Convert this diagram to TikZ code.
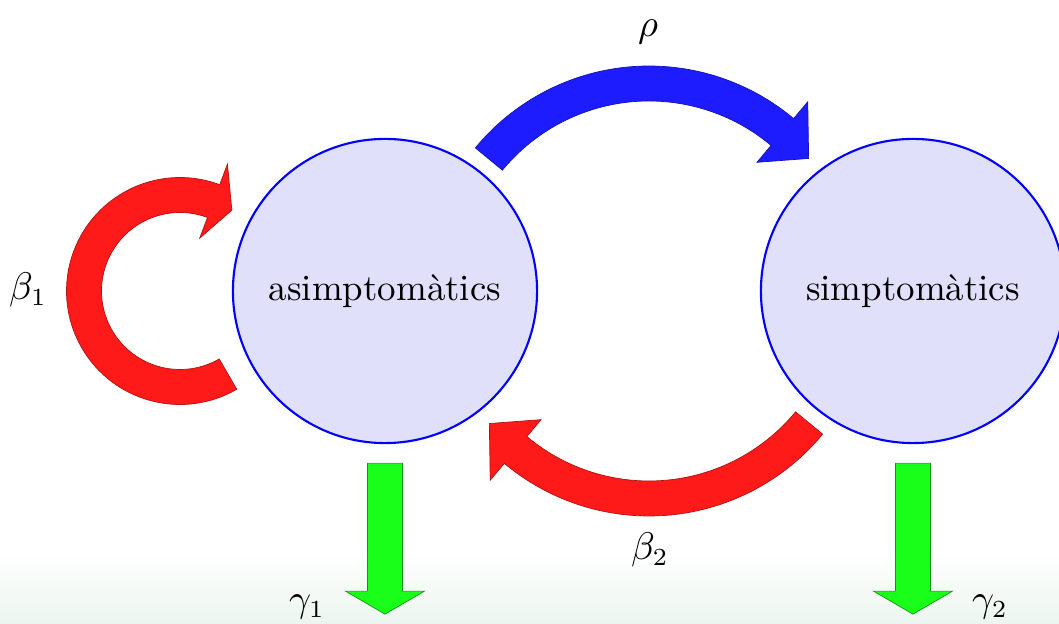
\documentclass[tikz,border=0pt]{standalone}
\usepackage{amsmath}
\usepackage{tikz}
\usetikzlibrary{calc}

\definecolor{estatfill}{RGB}{224,224,250}
\definecolor{fletxablava}{RGB}{28,28,255}
\definecolor{fletxavermella}{RGB}{255,26,26}
\definecolor{fletxaverda}{RGB}{26,255,26}
\definecolor{fonsverd}{RGB}{236,245,239}

% fat curved arrow: centre, mid radius, start angle, head base angle, tip angle, style
\newcommand{\fatarc}[6]{%
  \filldraw[#6] ([shift={(#1)}]#3:#2+17.5) arc[start angle=#3, end angle=#4, radius=#2+17.5]
    -- ([shift={(#1)}]#4:#2+39.5) -- ([shift={(#1)}]#5:#2) -- ([shift={(#1)}]#4:#2-39.5)
    -- ([shift={(#1)}]#4:#2-17.5) arc[start angle=#4, end angle=#3, radius=#2-17.5] -- cycle;}

\begin{document}
\begin{tikzpicture}[x=0.01cm,y=0.01cm,
    estat/.style={circle,draw=blue,line width=0.6pt,fill=estatfill,minimum size=3.04cm,inner sep=0pt,font=\fontsize{10.5}{12.6}\selectfont},
    lletra/.style={font=\fontsize{10.5}{12.6}\selectfont},
    blava/.style={fill=fletxablava,draw=fletxablava!70!black,line width=0.2pt},
    vermella/.style={fill=fletxavermella,draw=fletxavermella!70!black,line width=0.2pt},
    verda/.style={fill=fletxaverda,draw=fletxaverda!60!black,line width=0.2pt}]
      \useasboundingbox (0,0) rectangle (1059,624);
      \shade[top color=white,bottom color=fonsverd] (0,0) rectangle (1059,72);
      \node[estat] (asim) at (385,333) {asimptomàtics};
      \node[estat] (simp) at (913,333) {simptomàtics};
      \coordinate (mig) at ($(asim)!0.5!(simp)$);
      \coordinate (bucle) at ($(asim)+(-205,0)$);
      % transitions between the states
      \fatarc{mig}{207.5}{140.5}{50}{39.7}{blava}
      \fatarc{mig}{207.5}{320.5}{230}{219.7}{vermella}
      \fatarc{bucle}{96}{300}{69.5}{57.3}{vermella}
      % exits
      \foreach \n in {asim,simp} {
        \filldraw[verda,shift={(\n.south)}] (-17.5,-19) -- (17.5,-19) -- (17.5,-147) -- (39.5,-147)
          -- (0,-170) -- (-39.5,-147) -- (-17.5,-147) -- cycle;
      }
      \node[lletra] (rho) at (648,592) {$\rho$};
      \node[lletra] (beta1) at (28,334) {$\beta_1$};
      \node[lletra] (beta2) at (650,74) {$\beta_2$};
      \node[lletra] (gamma1) at (307,17) {$\gamma_1$};
      \node[lletra] (gamma2) at (990,17) {$\gamma_2$};
    \end{tikzpicture}
\end{document}
